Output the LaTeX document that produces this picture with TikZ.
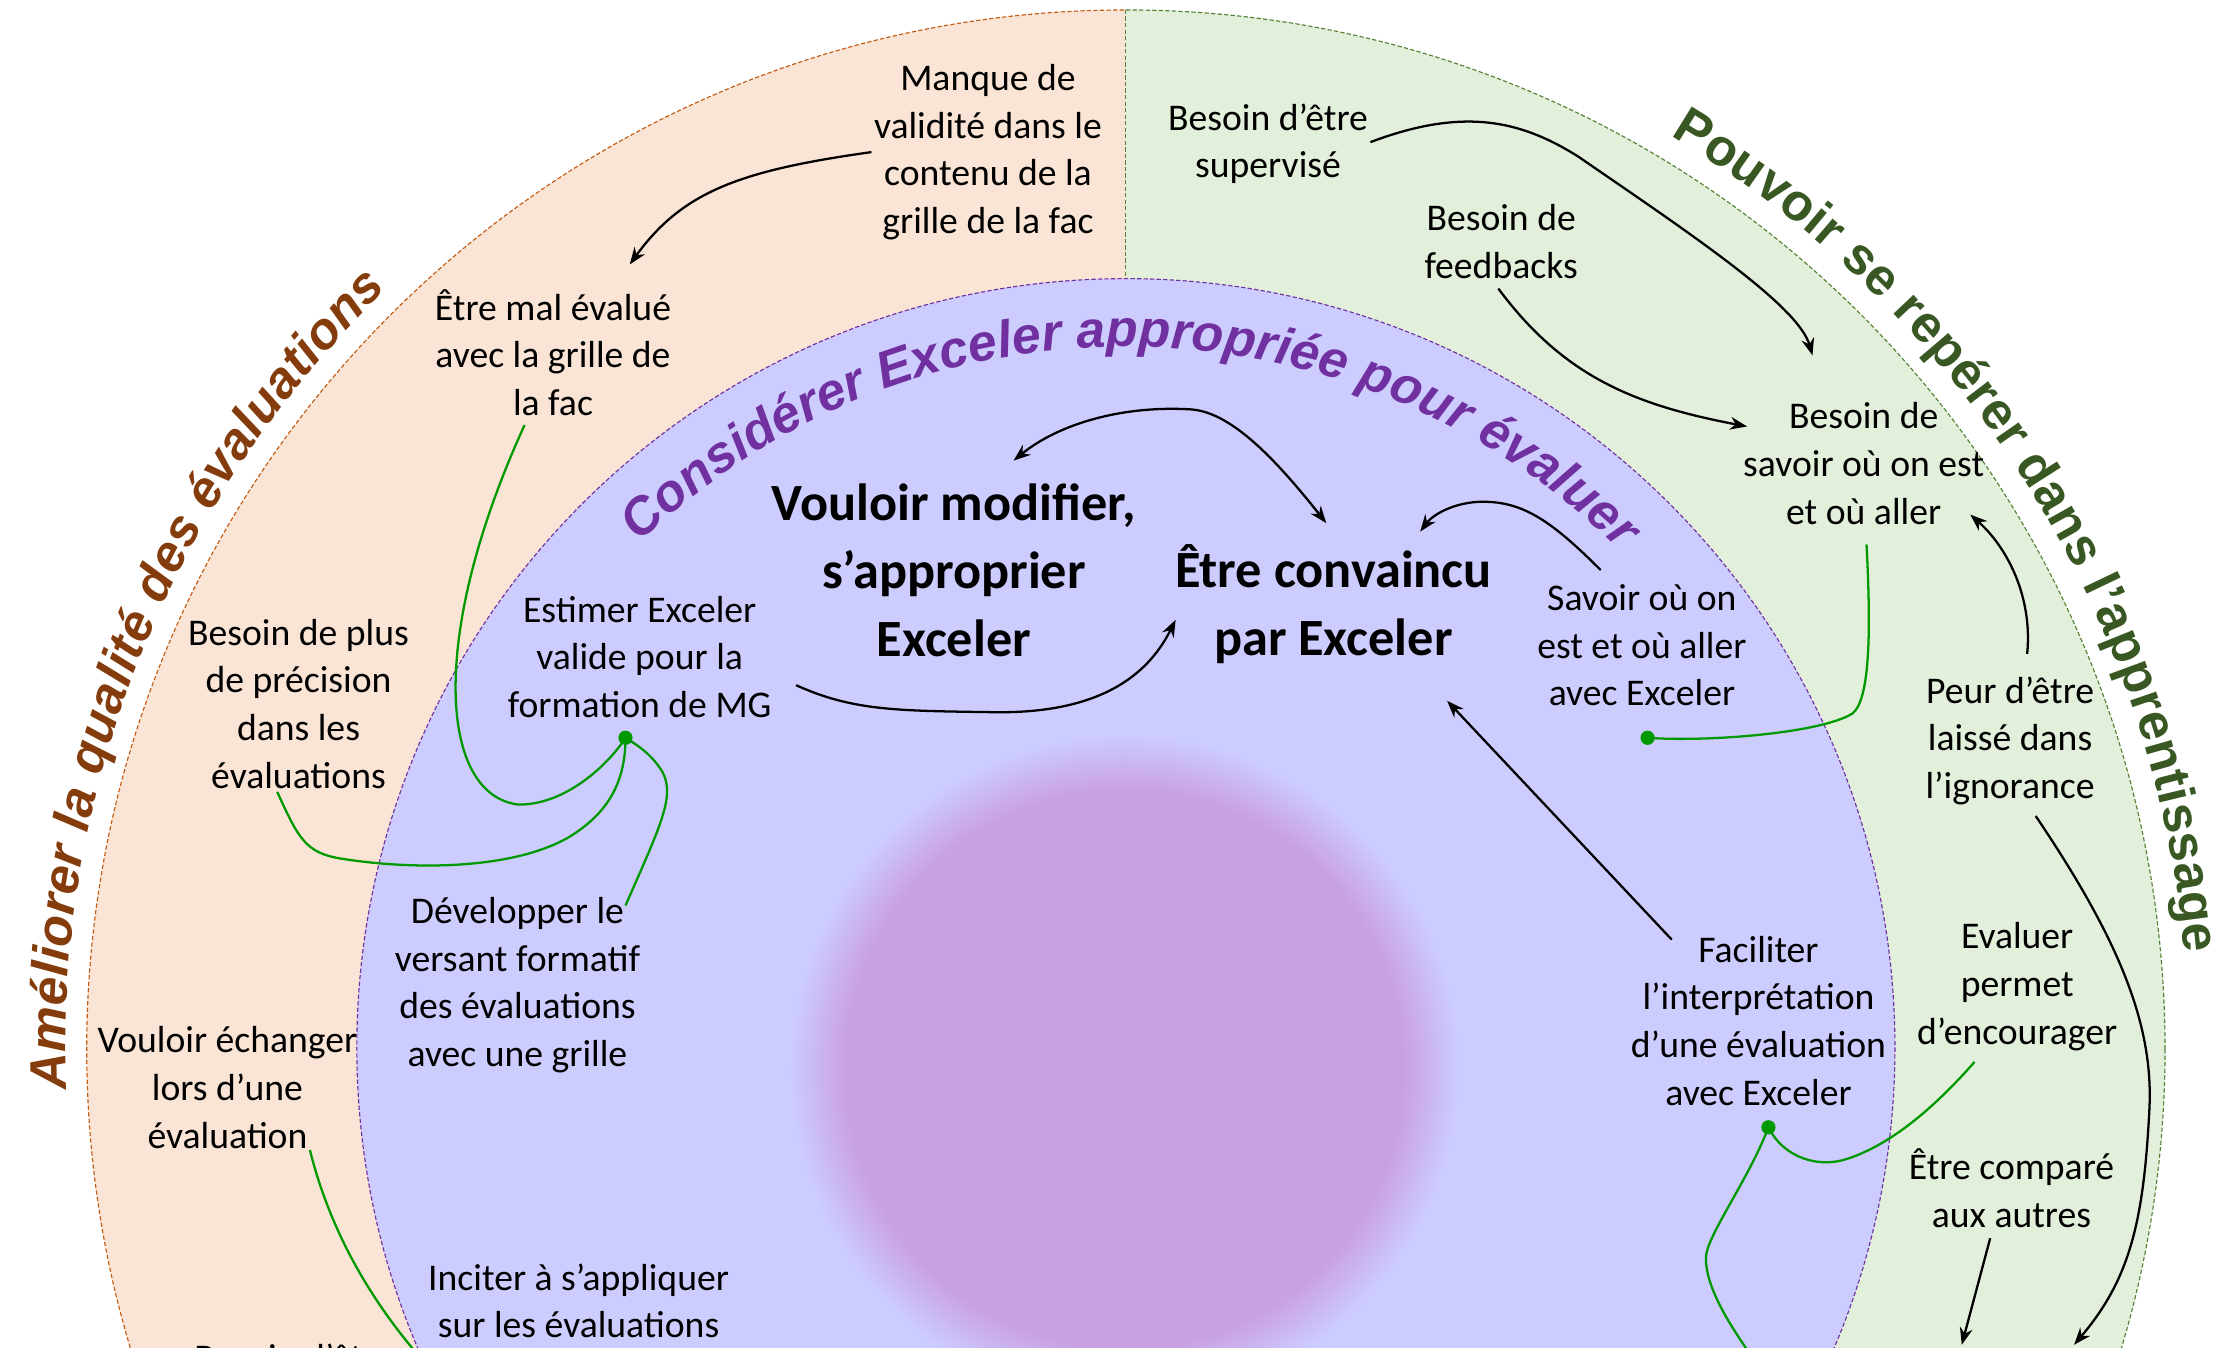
\documentclass[tikz,border=0pt]{standalone}
\usepackage{fontspec}
\setmainfont{Carlito}
\newfontfamily\arialf{Liberation Sans}
\usetikzlibrary{arrows.meta,decorations.text,calc}
\definecolor{orangec}{RGB}{250,228,213}
\definecolor{greenc}{RGB}{226,239,218}
\definecolor{purplebg}{RGB}{204,204,255}
\definecolor{pinkc}{RGB}{201,160,224}
\definecolor{brownt}{RGB}{132,60,12}
\definecolor{greent}{RGB}{56,87,35}
\definecolor{purplet}{RGB}{112,48,160}
\definecolor{linkg}{RGB}{0,153,0}
\definecolor{brownd}{RGB}{197,90,17}
\definecolor{greend}{RGB}{84,130,53}
\pgfdeclareradialshading{blurdisk}{\pgfpointorigin}{color(0bp)=(pinkc); color(20.8bp)=(pinkc); color(25bp)=(purplebg); color(50bp)=(purplebg)}
\newcommand\titlefontI{\arialf\bfseries\itshape\fontsize{36.5}{40}\selectfont}
\newcommand\titlefontL{\arialf\bfseries\itshape\fontsize{36}{40}\selectfont}
\newcommand\titlefontB{\arialf\bfseries\fontsize{36.5}{40}\selectfont}
\begin{document}
\begin{tikzpicture}[x=1pt,y=-1pt,
  txt/.style={font=\fontsize{26.5}{33.5}\selectfont, align=center, inner sep=0pt},
  btxt/.style={font=\bfseries\fontsize{36.8}{48}\selectfont, align=center, inner sep=0pt},
  gdot/.style={circle, fill=linkg, inner sep=0pt, minimum size=10pt},
  blk/.style={line width=1.6pt, -{Stealth[length=12pt,width=9pt]}},
  dblk/.style={line width=1.6pt, {Stealth[length=12pt,width=9pt]}-{Stealth[length=12pt,width=9pt]}},
  grn/.style={line width=1.6pt, draw=linkg},
  dashline/.style={line width=0.8pt, dash pattern=on 3pt off 1.6pt}]
\useasboundingbox (0,0) rectangle (1568,948);
\begin{scope}
\clip (0,0) rectangle (1568,948);
% outer ring halves
\begin{scope}
\clip (792,738) circle[radius=731];
\fill[orangec] (0,0) rectangle (792,948);
\fill[greenc] (792,0) rectangle (1568,948);
\end{scope}
\begin{scope}
\clip (0,0) rectangle (792,948);
\draw[dashline, draw=brownd] (792,738) circle[radius=731];
\end{scope}
\begin{scope}
\clip (792,0) rectangle (1568,948);
\draw[dashline, draw=greend] (792,738) circle[radius=731];
\end{scope}
\draw[dashline, draw=greend] (792,7) -- (792,197);
% inner circle
\fill[purplebg] (792,737) circle[radius=541];
\draw[dashline, draw=purplet] (792,737) circle[radius=541];
% blurred centre disk
\shade[shading=blurdisk] (791,752) circle[radius=235];

% curved titles
\begin{scope}[y=1pt]
\path[decorate, decoration={text along path, text color=brownt, text align={fit to path},
  text={|\titlefontL|Améliorer la qualité des évaluations}}]
  ([shift={(792,-738)}]182.2:746) arc[start angle=182.2, end angle=134.2, radius=746];
\path[decorate, decoration={text along path, text color=greent, text align={fit to path},
  text={|\titlefontB|Pouvoir se repérer dans l’apprentissage}}]
  ([shift={(792,-738)}]59.2:748) arc[start angle=59.2, end angle=5.2, radius=748];
\path[decorate, decoration={text along path, text color=purplet, text align={fit to path},
  text={|\titlefontI|Considérer Exceler appropriée pour évaluer}}]
  ([shift={(792,-737)}]133.9:493) arc[start angle=133.9, end angle=45.3, radius=493];
\end{scope}

% text nodes
\node[txt] (manque) at (695,107) {Manque de\\validité dans le\\contenu de la\\grille de la fac};
\node[txt] (mal) at (389,248) {Être mal évalué\\avec la grille de\\la fac};
\node[txt] (plus) at (210,495) {Besoin de plus\\de précision\\dans les\\évaluations};
\node[txt] (echanger) at (160,765) {Vouloir échanger\\lors d’une\\évaluation};
\node[txt] (besoinbas) at (207,955) {Besoin d’être};
\node[txt] (estimer) at (450,462) {Estimer Exceler\\valide pour la\\formation de MG};
\node[btxt] (modifier) at (671,401) {Vouloir modifier,\\s’approprier\\Exceler};
\node[btxt] (convaincu) at (938,425) {Être convaincu\\par Exceler};
\node[txt] (savoir) at (1155,454) {Savoir où on\\est et où aller\\avec Exceler};
\node[txt] (developper) at (364,693) {Développer le\\versant formatif\\des évaluations\\avec une grille};
\node[txt] (inciter) at (407,915) {Inciter à s’appliquer\\sur les évaluations};
\node[txt] (faciliter) at (1237,718) {Faciliter\\l’interprétation\\d’une évaluation\\avec Exceler};
\node[txt] (supervise) at (892,101) {Besoin d’être\\supervisé};
\node[txt] (feedbacks) at (1056,170) {Besoin de\\feedbacks};
\node[txt] (savoirou) at (1311,326) {Besoin de\\savoir où on est\\et où aller};
\node[txt] (peur) at (1414,521) {Peur d’être\\laissé dans\\l’ignorance};
\node[txt] (evaluer) at (1419,694) {Evaluer\\permet\\d’encourager};
\node[txt] (compare) at (1415,836) {Être comparé\\aux autres};

% dots and free ends
\node[gdot] (dot1) at (440,519) {};
\node[gdot] (dot2) at (1159,519) {};
\node[gdot] (dot3) at (1244,793) {};
\coordinate (pend1) at (1459,946);
\coordinate (pend2) at (1380,946);
\coordinate (gend1) at (1235,958);
\coordinate (gend2) at (300,960);

% black arrows
\draw[blk] ($(manque)+(-82,0)$) .. controls (520,120) and (480,135) .. ($(mal)+(54,-62)$);
\draw[blk] ($(supervise)+(72,-1)$) .. controls (1030,75) and (1070,85) .. (1110,110)
  .. controls (1190,165) and (1265,215) .. ($(savoirou)+(-36,-76)$);
\draw[blk] ($(feedbacks)+(-2,33)$) .. controls (1100,265) and (1150,285) .. ($(savoirou)+(-82,-26)$);
\draw[dblk] ($(modifier)+(42,-77)$) .. controls (745,298) and (790,285) .. (838,288)
  .. controls (865,290) and (895,320) .. ($(convaincu)+(-5,-57)$);
\draw[blk] ($(estimer)+(110,20)$) .. controls (600,500) and (630,500) .. (700,501)
  .. controls (780,502) and (810,470) .. ($(convaincu)+(-111,11)$);
\draw[blk] ($(savoir)+(-29,-53)$) .. controls (1090,365) and (1070,352) .. (1040,353)
  .. controls (1022,354) and (1008,362) .. ($(convaincu)+(61,-51)$);
\draw[blk] ($(faciliter)+(-61,-57)$) -- ($(convaincu)+(80,68)$);
\draw[blk] ($(peur)+(12,-61)$) .. controls (1430,420) and (1412,385) .. ($(savoirou)+(75,36)$);
\draw[blk] ($(peur)+(18,53)$) .. controls (1490,660) and (1515,720) .. (1512,780)
  .. controls (1508,860) and (1498,900) .. (pend1);
\draw[blk] ($(compare)+(-15,35)$) -- (pend2);

% green links
\draw[grn] ($(mal)+(-20,51)$) .. controls (300,450) and (310,560) .. (365,566)
  .. controls (400,566) and (430,535) .. (dot1.center);
\draw[grn] ($(plus)+(-15,62)$) .. controls (210,590) and (215,600) .. (240,604)
  .. controls (290,612) and (360,612) .. (400,589)
  .. controls (428,572) and (440,550) .. (dot1.center);
\draw[grn] ($(developper)+(76,-56)$) .. controls (465,580) and (475,560) .. (466,543)
  .. controls (458,530) and (448,524) .. (dot1.center);
\draw[grn] (dot2.center) .. controls (1200,522) and (1280,516) .. (1303,502)
  .. controls (1316,492) and (1316,440) .. ($(savoirou)+(2,57)$);
\draw[grn] (dot3.center) .. controls (1255,815) and (1280,822) .. (1300,815)
  .. controls (1330,805) and (1360,780) .. ($(evaluer)+(-30,53)$);
\draw[grn] (dot3.center) .. controls (1230,830) and (1200,870) .. (1200,885)
  .. controls (1200,905) and (1215,930) .. (gend1);
\draw[grn] ($(echanger)+(58,44)$) .. controls (232,865) and (260,915) .. (gend2);
\end{scope}
\end{tikzpicture}
\end{document}
